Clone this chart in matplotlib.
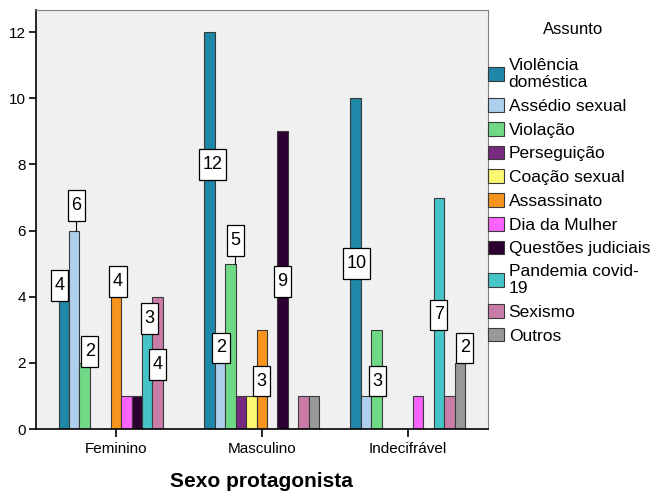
import numpy as np
import matplotlib.pyplot as plt
from matplotlib.patches import Patch
from matplotlib.path import Path

plt.rcParams['font.family'] = ['Liberation Sans', 'DejaVu Sans']

grupos = ['Feminino', 'Masculino', 'Indecifrável']
assuntos = ['Violência\ndoméstica', 'Assédio sexual', 'Violação', 'Perseguição',
            'Coação sexual', 'Assassinato', 'Dia da Mulher', 'Questões judiciais',
            'Pandemia covid-\n19', 'Sexismo', 'Outros']
feminino = [4, 6, 2, 0, 0, 4, 1, 1, 3, 4, 0]
masculino = [12, 2, 5, 1, 1, 3, 0, 9, 0, 1, 1]
indecifravel = [10, 1, 3, 0, 0, 0, 1, 0, 7, 1, 2]
cores = ['#1f87a8', '#aed0ee', '#6fd985', '#782a80', '#fbf872', '#f7941e',
         '#fc62fc', '#2d0032', '#46c5c8', '#c97ca8', '#999999']

# where the value boxes sit: (grupo, assunto, altura do centro, desvio x em px)
rotulos = [(0, 0, 4.35, -4), (0, 1, 6.75, 2), (0, 2, 2.35, 5), (0, 5, 4.45, 2),
           (0, 8, 3.35, 2), (0, 9, 1.95, 0),
           (1, 0, 8.0, 3), (1, 1, 2.45, 1), (1, 2, 5.7, 5), (1, 5, 1.45, 0),
           (1, 7, 4.45, 0),
           (2, 0, 5.0, 1), (2, 2, 1.45, 1), (2, 8, 3.45, 0), (2, 10, 2.45, 5)]

dados = np.array([feminino, masculino, indecifravel])
n = len(assuntos)
w = 0.0715
x = np.arange(len(grupos))


def caixa(x0, y0, width, height, mutation_size):
    # tall rectangle like the SPSS value labels
    px = 0.2 * mutation_size
    py = 0.38 * mutation_size
    x0, y0 = x0 - px, y0 - py
    x1, y1 = x0 + width + 2 * px, y0 + height + 2 * py
    return Path([(x0, y0), (x1, y0), (x1, y1), (x0, y1), (x0, y0)], closed=True)


fig = plt.figure(figsize=(6.61, 4.95), dpi=100)
ax = fig.add_axes([0.054, 0.1333, 0.684, 0.8465])
ax.set_facecolor('#f0f0f0')

for j in range(n):
    pos = x + (j - (n - 1) / 2) * w
    alt = dados[:, j]
    m = alt > 0
    ax.bar(pos[m], alt[m], width=w, color=cores[j], edgecolor='#3a3a3a',
           linewidth=0.8, zorder=2)

for g, j, yl, dx in rotulos:
    px = x[g] + (j - (n - 1) / 2) * w
    v = dados[g, j]
    if yl > v:
        ax.plot([px + dx * 0.00685] * 2, [v, yl], color='black', lw=0.8, zorder=3)
    ax.annotate(str(v), xy=(px, yl), xytext=(dx, 0), textcoords='offset pixels',
                ha='center', va='center', fontsize=13, zorder=4,
                bbox=dict(boxstyle=caixa, fc='white', ec='black', lw=0.9))

ax.set_xlim(-0.55, 2.55)
ax.set_ylim(0, 12.67)
ax.set_yticks(range(0, 13, 2))
ax.set_xticks(x)
ax.set_xticklabels(grupos, fontsize=11)
ax.tick_params(axis='y', labelsize=11, length=5, width=1.2, pad=2)
ax.tick_params(axis='x', length=6, width=1.2, pad=3)
ax.spines['left'].set_linewidth(1.2)
ax.spines['bottom'].set_linewidth(1.2)
ax.spines['top'].set_color('#808080')
ax.spines['right'].set_color('#808080')
ax.set_xlabel('Sexo protagonista', fontsize=15, fontweight='bold', labelpad=12)

fig.text(573 / 661, 1 - 29 / 495, 'Assunto', ha='center', va='center', fontsize=12)
handles = [Patch(facecolor=c, edgecolor='#3a3a3a', linewidth=0.8) for c in cores]
leg = fig.legend(handles, assuntos, loc='upper left', bbox_to_anchor=(0.738, 0.882),
                 frameon=False, fontsize=12.5,
                 handlelength=0.95, handleheight=0.85, handletextpad=0.25,
                 labelspacing=0.45, borderaxespad=0, borderpad=0)
for t in leg.get_texts():
    t.set_linespacing(1.15)

fig.savefig('out.png', dpi=100)
